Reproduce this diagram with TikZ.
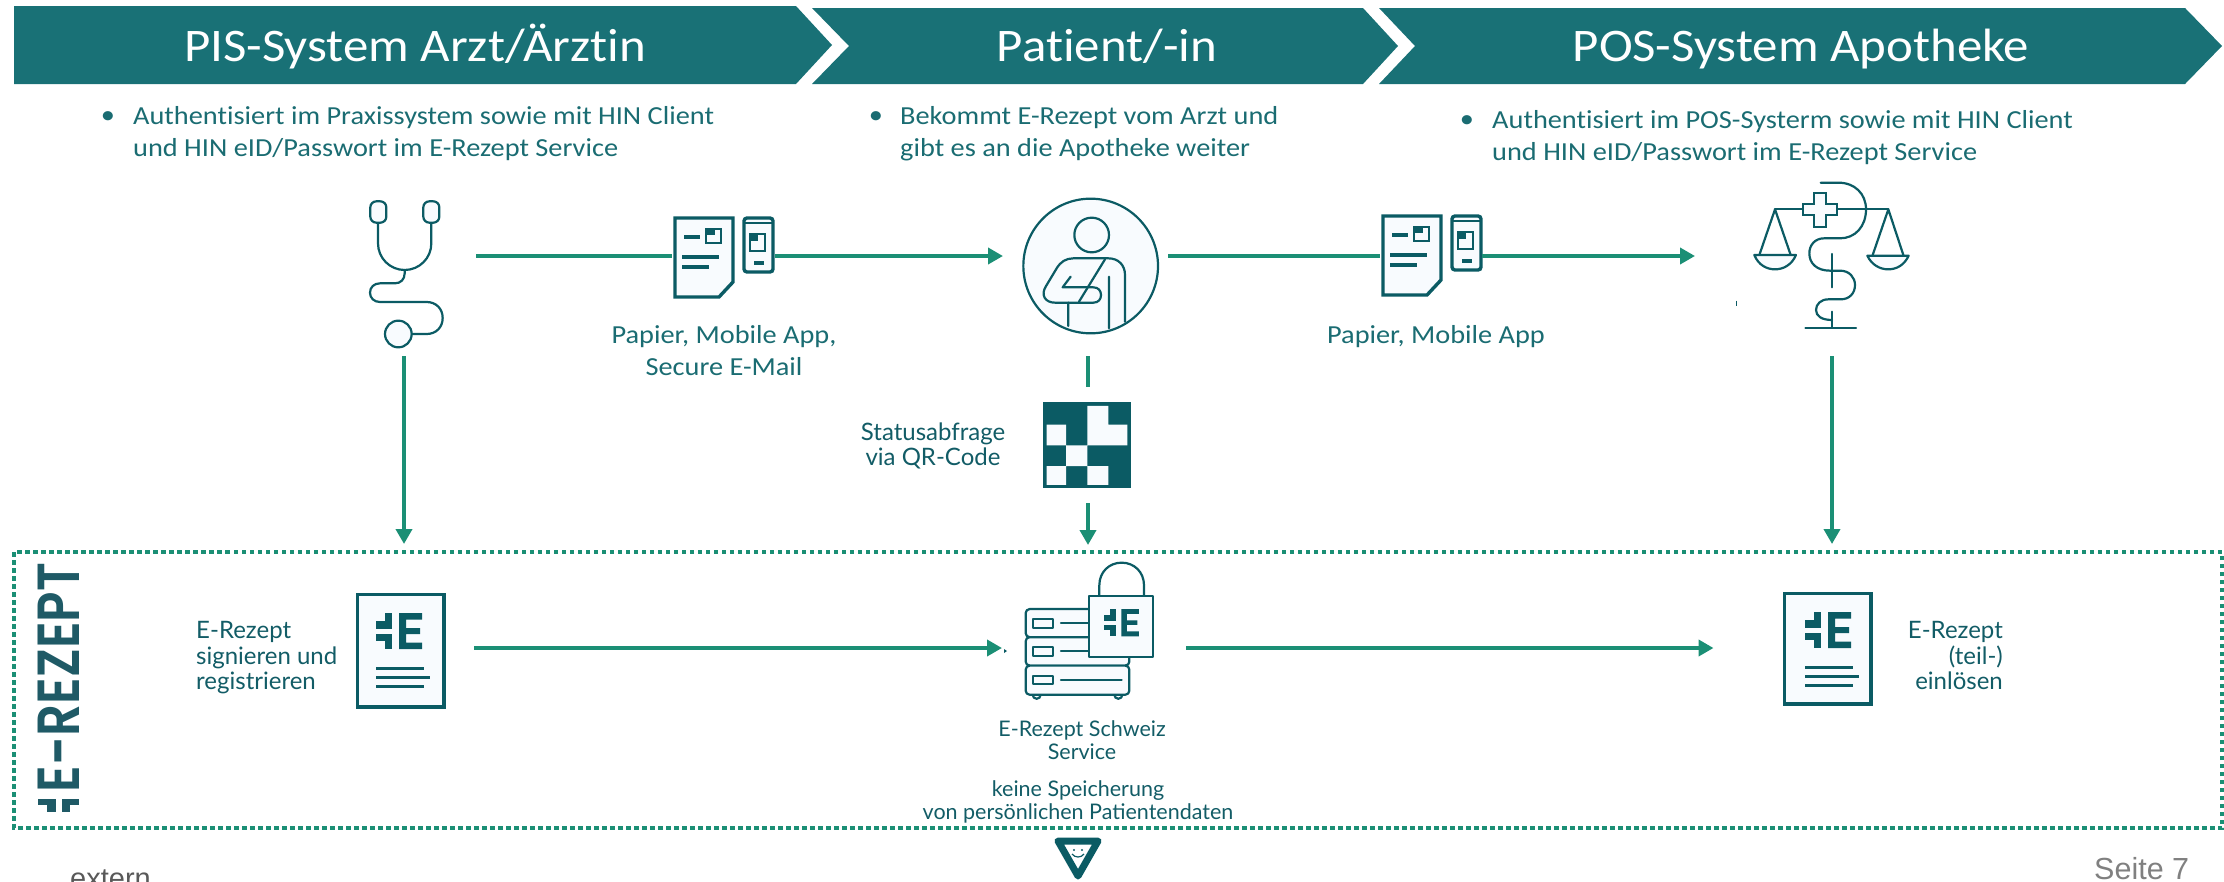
\documentclass[tikz,border=0pt]{standalone}
\usepackage{fontspec}
\usepackage{graphicx}
\usetikzlibrary{arrows.meta}
\setmainfont{Carlito}[FakeStretch=1.09,Ligatures=NoCommon]
\newfontfamily\low{Lato}
\newfontfamily\brand{Poppins SemiBold}
\newfontfamily\foot{Liberation Sans}
\definecolor{banner}{HTML}{197176}
\definecolor{bodytxt}{HTML}{1A6C72}
\definecolor{dark}{HTML}{0B5B64}
\definecolor{flowc}{HTML}{1B8F75}
\definecolor{paper}{HTML}{F8FBFE}
\definecolor{lowtxt}{HTML}{125C66}
\definecolor{brandc}{HTML}{1F5A66}
\tikzset{
  headbox/.style={fill=banner,draw=none},
  headtxt/.style={text=white,anchor=base,inner sep=0pt,font=\fontsize{46.7}{50}\selectfont},
  bodyt/.style={text=bodytxt,inner sep=0pt,font=\fontsize{26}{32}\selectfont},
  lowt/.style={text=lowtxt,inner sep=0pt,font=\low\fontsize{24}{25.5}\selectfont},
  lows/.style={text=lowtxt,inner sep=0pt,font=\low\fontsize{21.5}{23}\selectfont},
  frame/.style={inner sep=0pt,outer sep=0pt,draw=none},
  flow/.style={draw=flowc,line width=4pt},
  flowa/.style={flow,-{Triangle[length=15pt,width=16pt]}},
  icon/.style={draw=dark,line width=2.2pt,line join=round,line cap=round},
  thick3/.style={draw=dark,line width=3.4pt},
}
\newcommand\markL{\fill (8.5,0) rectangle (16,15.5); \fill (0,8) rectangle (16,15.5);
  \fill (8.5,20.5) rectangle (16,36); \fill (0,20.5) rectangle (16,28);}
\newcommand\markE{\fill (23,0) -- (46,0) -- (46,6.5) -- (30,6.5) -- (30,15) -- (44,15) -- (44,21) -- (30,21) -- (30,29.5) -- (46,29.5) -- (46,36) -- (23,36) -- cycle;}
\newcommand\rxsheet[4]{% x y height markoffset
  \begin{scope}[shift={(#1,#2)}]
    \draw[thick3,fill=paper] (1.5,1.5) rectangle (88,#3);
    \begin{scope}[shift={(#4,20)},dark,fill=dark]\markL\markE\end{scope}
    \draw[dark,line width=3pt] (#4,75) -- ++(48,0) (#4,84) -- ++(54,0) (#4,93) -- ++(48,0);
  \end{scope}}
\newcommand\phonedoc[2]{%
  \begin{scope}[shift={(#1,#2)}]
    \draw[thick3,fill=paper,line join=miter] (1,1) -- (59,1) -- (59,65) -- (45,80) -- (1,80) -- cycle;
    \draw[dark,line width=4pt] (10,19.5) -- (26,19.5) (8,40) -- (45,40) (8,50) -- (35,50);
    \draw[dark,line width=2.4pt,fill=paper] (32,12) rectangle (47,26);
    \fill[dark] (32,12) rectangle (41,18);
    \draw[thick3,fill=paper,rounded corners=3pt] (70,1) rectangle (99,55);
    \draw[dark,line width=2pt] (70,6) -- (99,6);
    \draw[dark,line width=2.4pt,fill=paper] (76,17) rectangle (91,34);
    \fill[dark] (76,17) rectangle (84,24);
    \draw[dark,line width=3.5pt] (80,46) -- (90,46);
  \end{scope}}
\begin{document}
\begin{tikzpicture}[x=1pt,y=-1pt]
\useasboundingbox (0,0) rectangle (2224,881);
% banners
\fill[headbox] (14,6) -- (796,6) -- (832,45) -- (796,84) -- (14,84) -- cycle;
\fill[headbox] (812,8) -- (1363,8) -- (1398,46) -- (1363,84) -- (812,84) -- (849,46) -- cycle;
\fill[headbox] (1379,8) -- (2185,8) -- (2222,46) -- (2185,84) -- (1379,84) -- (1415,46) -- cycle;
\node[headtxt] (h1) at (415,61) {PIS-System Arzt/Ärztin};
\node[headtxt] (h2) at (1107,61) {Patient/-in};
\node[headtxt] (h3) at (1801,61) {POS-System Apotheke};
% bullets
\node[bodyt,anchor=base] (b1) at (108,123) {•};
\node[bodyt,anchor=north west,align=left] (t1) at (133,106.5) {Authentisiert im Praxissystem sowie mit HIN Client\\und HIN eID/Passwort im E-Rezept Service};
\node[bodyt,anchor=base] (b2) at (876,123) {•};
\node[bodyt,anchor=north west,align=left] (t2) at (900,106.5) {Bekommt E-Rezept vom Arzt und\\gibt es an die Apotheke weiter};
\node[bodyt,anchor=base] (b3) at (1467,127) {•};
\node[bodyt,anchor=north west,align=left] (t3) at (1492,110.5) {Authentisiert im POS-Systerm sowie mit HIN Client\\und HIN eID/Passwort im E-Rezept Service};
% invisible frames that carry the connector ends
\node[frame,minimum width=144pt,minimum height=200pt] (steth) at (404,256) {};
\node[frame,minimum width=103pt,minimum height=80pt] (docA) at (723.5,256) {};
\node[frame,minimum width=165pt,minimum height=200pt] (patient) at (1085.5,256) {};
\node[frame,minimum width=102pt,minimum height=80pt] (docB) at (1431,256) {};
\node[frame,minimum width=274pt,minimum height=200pt] (pharm) at (1832,256) {};
\node[frame,minimum width=88pt,minimum height=116pt] (qr) at (1088,445) {};
\node[frame,minimum width=140pt,minimum height=208pt] (rxL) at (404,648) {};
\node[frame,minimum width=184pt,minimum height=206pt] (srv) at (1094,648) {};
\node[frame,minimum width=237pt,minimum height=208pt] (rxR) at (1832,648) {};
% stethoscope
\begin{scope}[shift={(300,180)},scale=1/3]
  \draw[icon] (234,128) -- (234,190) arc[start angle=180,end angle=0,x radius=80,y radius=80] -- (394,128);
  \draw[icon,fill=paper,rounded corners=6pt] (211,64) rectangle (259,128);
  \draw[icon,fill=paper,rounded corners=6pt] (370,64) rectangle (418,128);
  \draw[icon] (314,270) -- (314,280) .. controls (314,298) and (302,310) .. (285,310) -- (240,310)
     .. controls (222,310) and (210,322) .. (210,338) .. controls (210,354) and (222,366) .. (240,366)
     -- (380,366) .. controls (408,366) and (428,386) .. (428,414) .. controls (428,442) and (408,462) .. (380,462) -- (335,462);
  \draw[icon,fill=paper] (295,462) circle[radius=40];
\end{scope}
% documents + phones
\phonedoc{674}{217}
\phonedoc{1382}{215}
% patient
\begin{scope}[shift={(1000,180)},scale=1/3]
  \draw[icon,fill=paper] (272,258) circle[radius=202];
  \draw[icon] (275,165) circle[radius=52];
  \draw[icon] (205,368) -- (205,438) (327,290) -- (327,445) (315,238) -- (237,365);
  \draw[icon] (375,425) -- (375,285) .. controls (375,255) and (355,235) .. (325,235) -- (220,235)
     .. controls (198,235) and (182,245) .. (170,265) -- (137,320) .. controls (122,345) and (135,368) .. (165,368) -- (280,368)
     .. controls (295,368) and (303,358) .. (303,345) .. controls (303,332) and (295,322) .. (280,322) -- (188,322) -- (212,290);
\end{scope}
% pharmacy
\begin{scope}[shift={(1720,170)},scale=1/3]
  \draw[icon] (165,118) -- (505,118);
  \draw[icon,fill=paper,line join=miter] (283,68) -- (317,68) -- (317,101) -- (352,101) -- (352,135) -- (317,135) -- (317,170) -- (283,170) -- (283,135) -- (248,135) -- (248,101) -- (283,101) -- cycle;
  \draw[icon] (118,255) -- (165,118) -- (212,255);
  \draw[icon] (458,255) -- (505,118) -- (550,255);
  \draw[icon,fill=paper] (103,255) -- (228,255) .. controls (215,285) and (190,298) .. (165,298) .. controls (140,298) and (115,285) .. (103,255) -- cycle;
  \draw[icon,fill=paper] (442,257) -- (566,257) .. controls (553,285) and (530,298) .. (505,298) .. controls (480,298) and (455,285) .. (442,257) -- cycle;
  \draw[icon] (302,38) -- (355,38) .. controls (405,38) and (438,72) .. (438,118) .. controls (438,170) and (405,205) .. (360,205) -- (312,205)
    .. controls (285,205) and (268,225) .. (268,250) .. controls (268,280) and (290,302) .. (330,302) -- (360,302)
    .. controls (388,302) and (405,322) .. (405,345) .. controls (405,370) and (388,388) .. (362,388) -- (325,388)
    .. controls (303,388) and (288,402) .. (288,420) .. controls (288,438) and (305,450) .. (336,450);
  \draw[icon] (336,252) -- (336,352) (336,425) -- (336,473) (256,473) -- (408,473);
  \draw[dark,line width=1pt] (49,392) -- (49,408);
\end{scope}
% QR
\begin{scope}[shift={(820,350)},xscale=1/3,yscale=1/2.953]
  \fill[dark] (670,155) rectangle (932,408);
  \fill[paper] (802,165) rectangle (865,220) (680,220) rectangle (738,282) (802,220) rectangle (922,282)
     (738,282) rectangle (802,343) (680,343) rectangle (738,398) (802,343) rectangle (865,398);
\end{scope}
% text labels upper
\node[bodyt,anchor=north,align=center] (l1) at (724,325) {Papier, Mobile App,\\Secure E-Mail};
\node[bodyt,anchor=base] (l2) at (1436,343) {Papier, Mobile App};
\node[lowt,anchor=north,align=center] (l3) at (933,422.5) {Statusabfrage\\via QR-Code};
% dotted frame
\draw[draw=flowc,line width=3.6pt,dash pattern=on 4.5pt off 3.5pt] (14,552) rectangle (2222,828);
% prescriptions
\rxsheet{356}{593}{114}{20}
\rxsheet{1783}{592}{112}{22}
% server
\begin{scope}[shift={(820,350)},xscale=1/3,yscale=1/2.953]
  \draw[icon] (650,1018) ++(-12,0) arc[start angle=180,end angle=0,radius=12];
  \draw[icon] (895,1018) ++(-12,0) arc[start angle=180,end angle=0,radius=12];
  \draw[icon,fill=paper,rounded corners=4pt] (617,765) rectangle (928,848);
  \draw[icon,fill=paper,rounded corners=4pt] (617,848) rectangle (928,932);
  \draw[icon,fill=paper,rounded corners=4pt] (617,932) rectangle (928,1018);
  \draw[icon,line cap=butt] (638,795) rectangle (700,820) (638,878) rectangle (700,903) (638,962) rectangle (700,986);
  \draw[icon] (723,806) -- (905,806) (723,890) -- (905,890) (723,974) -- (905,974);
  \draw[icon] (838,726) -- (838,695) .. controls (838,655) and (868,628) .. (905,628) .. controls (942,628) and (972,655) .. (972,695) -- (972,726);
  \draw[icon,fill=paper] (808,726) rectangle (1000,907);
\end{scope}
\begin{scope}[shift={(1104,609)},scale=.76,dark,fill=dark]\markL\markE\end{scope}
% brand label
\node[rotate=90,text=brandc,inner sep=0pt,anchor=base] (brand) at (79,677.5) {\resizebox{229pt}{41.5pt}{\brand E-REZEPT}};
\begin{scope}[shift={(38,812)},rotate=90,xscale=.8,yscale=1.15,brandc,fill=brandc]\markL\end{scope}
% lower text
\node[lowt,anchor=north west,align=left] (e1) at (196,621.5) {E-Rezept\\signieren und\\registrieren};
\node[lows,anchor=north,align=center] (e2) at (1082,720.5) {E-Rezept Schweiz\\Service};
\node[lows,anchor=north,align=center] (e3) at (1078,780.5) {keine Speicherung\\von persönlichen Patientendaten};
\node[lowt,anchor=north east,align=right] (e4) at (2003,621.5) {E-Rezept\\(teil-)\\einlösen};
% footer
\node[inner sep=0pt,anchor=base west,text=black!65,font=\foot\fontsize{29}{30}\selectfont] (ext) at (70,888) {extern};
\node[inner sep=0pt,anchor=base west,text=black!50,font=\foot\fontsize{30.5}{31}\selectfont] (pg) at (2094,879) {Seite 7};
% logo
\node[frame,minimum width=52pt,minimum height=44pt] (logo) at (1078,859) {};
\draw[dark,line width=7pt,line join=round] (1058,841) -- (1098,841) -- (1078,876) -- cycle;
\fill[dark] (1074,850) circle[radius=1.2] (1082,850) circle[radius=1.2];
\draw[dark,line width=1.2pt] (1072,854) .. controls (1075,858) and (1081,858) .. (1084,854);
% connectors
\draw[flow] (steth.east) -- (docA.west);
\draw[flowa] (docA.east) -- (patient.west);
\draw[flow] (patient.east) -- (docB.west);
\draw[flowa] (docB.east) -- (pharm.west);
\draw[flow] (qr.north |- patient.south) -- (qr.north);
\draw[flowa] (qr.south) -- (qr.south |- srv.north);
\draw[flowa] (steth.south) -- (rxL.north);
\draw[flowa] (pharm.south) -- (rxR.north);
\draw[flowa] (rxL.east) -- (srv.west);
\draw[flowa] (srv.east) -- (rxR.west);
\fill[dark] (1004,649) -- (1007,651) -- (1004,653) -- cycle;
\end{tikzpicture}
\end{document}
